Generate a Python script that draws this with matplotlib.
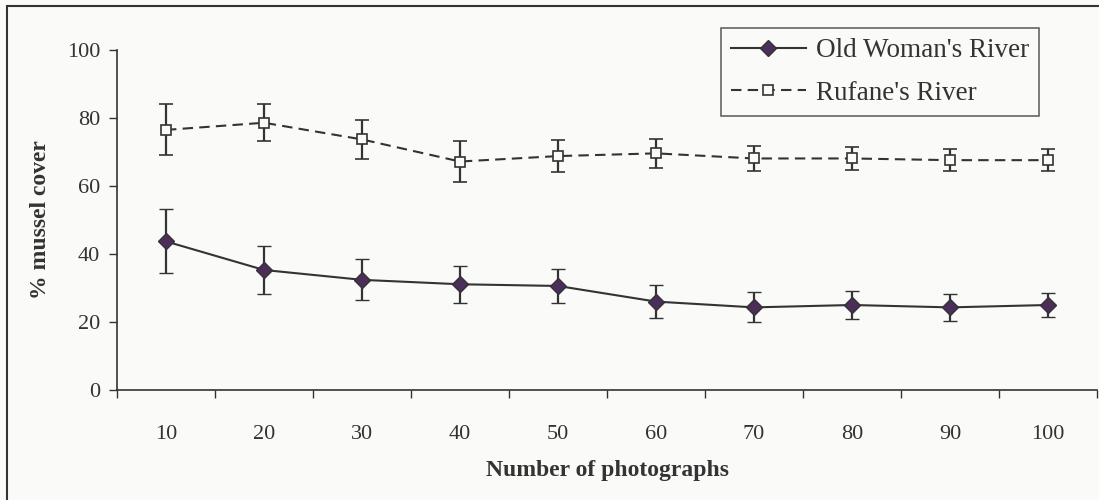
"""Mussel cover vs number of photographs"""

import matplotlib
matplotlib.use("Agg")
import matplotlib.pyplot as plt
from matplotlib.lines import Line2D
from matplotlib.patches import Rectangle

# data
photo_counts = ["10", "20", "30", "40", "50", "60", "70", "80", "90", "100"]
old_woman_mean = [43.7, 35.3, 32.4, 31.1, 30.6, 26.0, 24.3, 25.0, 24.3, 25.0]
old_woman_err = [9.4, 7.0, 6.0, 5.4, 5.1, 4.8, 4.4, 4.2, 3.9, 3.5]
rufane_mean = [76.5, 78.6, 73.7, 67.2, 68.8, 69.6, 68.1, 68.1, 67.6, 67.6]
rufane_err = [7.5, 5.5, 5.7, 6.0, 4.8, 4.3, 3.7, 3.3, 3.3, 3.2]
y_ticks = [0, 20, 40, 60, 80, 100]

BG = "#fafaf8"
INK = "#333333"
DIAMOND = "#4b2f5a"
DASH = (0, (5, 3))

plt.rcParams["font.family"] = ["Liberation Serif", "DejaVu Serif"]
plt.rcParams["text.color"] = INK
plt.rcParams["axes.labelcolor"] = INK
plt.rcParams["xtick.color"] = INK
plt.rcParams["ytick.color"] = INK

fig = plt.figure(figsize=(10.99, 5.0), dpi=100, facecolor=BG)
ax = fig.add_axes([117 / 1099, 1 - 390 / 500, 980 / 1099, 340 / 500])
ax.set_facecolor(BG)

x = list(range(len(photo_counts)))

old_style = dict(color=INK, lw=1.5, marker="D", markersize=8,
                 markerfacecolor=DIAMOND, markeredgecolor=INK, markeredgewidth=1.0)
ruf_style = dict(color=INK, lw=1.5, linestyle=DASH, marker="s", markersize=7.5,
                 markerfacecolor=BG, markeredgecolor=INK, markeredgewidth=1.2)

ax.errorbar(x, old_woman_mean, yerr=old_woman_err, ecolor=INK, elinewidth=1.6,
            capsize=5, capthick=1.6, clip_on=False, **old_style)
ax.errorbar(x, rufane_mean, yerr=rufane_err, ecolor=INK, elinewidth=1.6,
            capsize=5, capthick=1.6, clip_on=False, **ruf_style)

ax.set_xlim(-0.5, len(photo_counts) - 0.5)
ax.set_ylim(0, 100)

# category boundaries carry the tick marks, labels sit in the middle
ax.set_xticks([i - 0.5 for i in range(len(photo_counts) + 1)])
ax.set_xticklabels([])
ax.set_xticks(x, minor=True)
ax.set_xticklabels(photo_counts, minor=True, fontsize=16)
ax.tick_params(axis="x", which="major", length=6, width=1, direction="out")
ax.tick_params(axis="x", which="minor", length=0, pad=25.5)
ax.set_yticks(y_ticks)
ax.set_yticklabels([str(v) for v in y_ticks], fontsize=16)
ax.tick_params(axis="y", length=6, width=1, direction="out", pad=6)

for side in ("top", "right"):
    ax.spines[side].set_visible(False)
for side in ("left", "bottom"):
    ax.spines[side].set_color(INK)
    ax.spines[side].set_linewidth(1.2)

ax.set_xlabel("Number of photographs", fontsize=17, fontweight="bold", labelpad=11.5)
ax.set_ylabel("% mussel cover", fontsize=17, fontweight="bold", labelpad=11.5)

# legend without the error bars, like the original
handles = [Line2D([], [], **old_style), Line2D([], [], **ruf_style)]
labels = ["Old Woman's River", "Rufane's River"]
leg = ax.legend(handles, labels, loc="upper right",
                bbox_to_anchor=(1039 / 1099, 1 - 28 / 500),
                bbox_transform=fig.transFigure, borderaxespad=0,
                fontsize=19.5, frameon=True, fancybox=False, framealpha=1,
                facecolor=BG, edgecolor="#666666", handlelength=2.8,
                handletextpad=0.35, labelspacing=0.66, borderpad=0.37)
leg.get_frame().set_linewidth(1.2)

# outer border of the chart area
fig.add_artist(Rectangle((7 / 1099, -0.2), 1.2, 1.2 - 6 / 500, transform=fig.transFigure,
                         fill=False, edgecolor=INK, linewidth=1.5))

plt.savefig("out.png", dpi=100, facecolor=BG)
plt.close()
